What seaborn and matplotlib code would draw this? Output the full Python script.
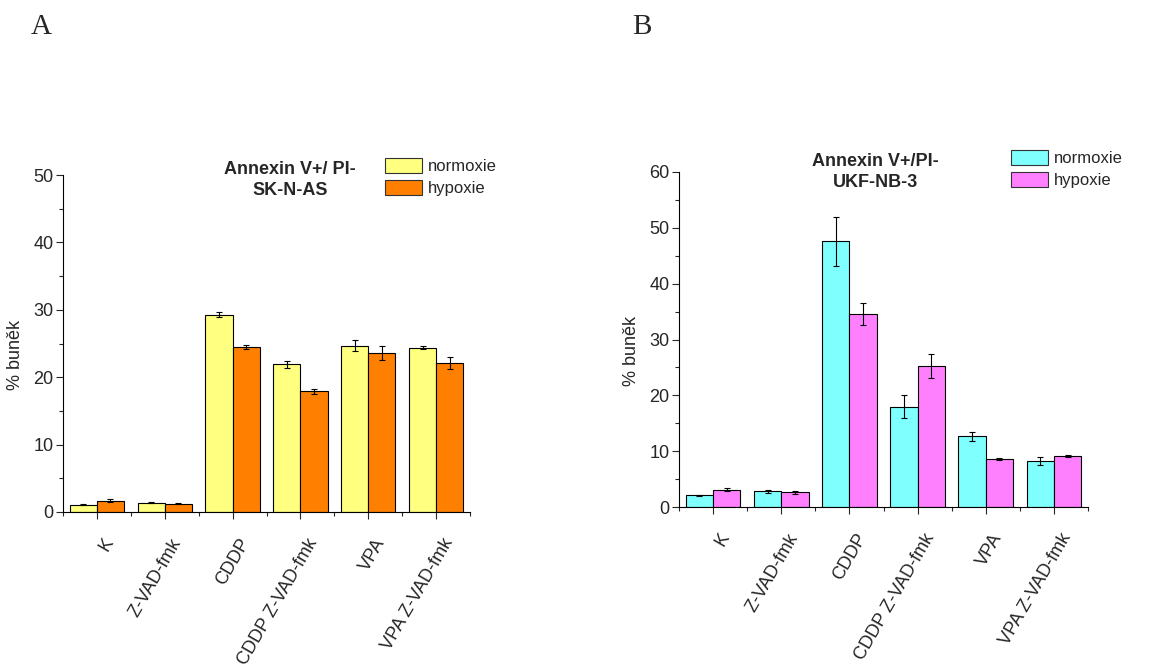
import numpy as np
import pandas as pd
import matplotlib
matplotlib.use("Agg")
import matplotlib.pyplot as plt
import matplotlib.transforms as mtransforms
from matplotlib.patches import Patch
import seaborn as sns

# ---- data ----
categories = ["K", "Z-VAD-fmk", "CDDP", "CDDP Z-VAD-fmk", "VPA", "VPA Z-VAD-fmk"]
conditions = ["normoxie", "hypoxie"]

sknas_norm = [1.1, 1.4, 29.3, 21.9, 24.7, 24.4]
sknas_norm_err = [0.1, 0.05, 0.3, 0.5, 0.75, 0.25]
sknas_hyp = [1.7, 1.25, 24.5, 17.9, 23.6, 22.1]
sknas_hyp_err = [0.25, 0.1, 0.25, 0.4, 1.1, 0.85]

ukf_norm = [2.1, 2.8, 47.6, 18.0, 12.7, 8.2]
ukf_norm_err = [0.1, 0.3, 4.4, 2.1, 0.8, 0.75]
ukf_hyp = [3.1, 2.6, 34.6, 25.3, 8.6, 9.2]
ukf_hyp_err = [0.3, 0.3, 1.95, 2.15, 0.1, 0.2]

sknas_colors = ["#FFFF80", "#FF8000"]
ukf_colors = ["#80FFFF", "#FF80FF"]

sns.set_style("ticks")
plt.rcParams["font.family"] = ["Liberation Sans", "DejaVu Sans"]
plt.rcParams["font.size"] = 13

W, H = 1176, 668
fig = plt.figure(figsize=(W / 100, H / 100), dpi=100)


def fx(px):
    return px / W


def fy(py):
    return 1 - py / H


def panel(rect, norm, nerr, hyp, herr, colors, ymax, title, title_xy, legend_xy, ylab_x):
    ax = fig.add_axes(rect)
    df = pd.DataFrame({
        "cat": categories * 2,
        "val": norm + hyp,
        "cond": [conditions[0]] * len(categories) + [conditions[1]] * len(categories),
    })
    sns.barplot(data=df, x="cat", y="val", hue="cond", order=categories,
                hue_order=conditions, palette=colors, edgecolor="black",
                linewidth=0.8, errorbar=None, saturation=1, width=0.8,
                legend=False, ax=ax)
    for cont, err in zip(ax.containers, [nerr, herr]):
        xs = [b.get_x() + b.get_width() / 2 for b in cont]
        ys = [b.get_height() for b in cont]
        ax.errorbar(xs, ys, yerr=err, fmt="none", ecolor="black",
                    elinewidth=0.8, capsize=2.5, capthick=0.8)
    ax.set_xlim(-0.5, len(categories) - 0.5)
    ax.set_ylim(0, ymax)
    ax.set_yticks(np.arange(0, ymax + 1, 10))
    ax.set_yticks(np.arange(5, ymax, 10), minor=True)
    ax.set_xticks(np.arange(-0.5, len(categories), 1.0), minor=True)
    sns.despine(ax=ax)
    for s in ["left", "bottom"]:
        ax.spines[s].set_linewidth(0.8)
        ax.spines[s].set_color("black")
    ax.tick_params(axis="y", which="major", length=5, width=0.8, labelsize=13, direction="out", pad=2)
    ax.tick_params(axis="y", which="minor", length=3, width=0.8, direction="out")
    ax.tick_params(axis="x", which="major", length=5, width=0.8, labelsize=13, direction="out", pad=15)
    ax.tick_params(axis="x", which="minor", length=3, width=0.8, direction="out")
    ax.set_xlabel("")
    ax.set_ylabel("% buněk", fontsize=13)
    ax.yaxis.set_label_coords(ylab_x, 0.466)
    offset = mtransforms.ScaledTranslation(13 / 100, 0, fig.dpi_scale_trans)
    for lab in ax.get_xticklabels():
        lab.set_rotation(60)
        lab.set_ha("right")
        lab.set_va("center")
        lab.set_rotation_mode("anchor")
        lab.set_transform(lab.get_transform() + offset)
    fig.text(fx(title_xy[0]), fy(title_xy[1]), title, ha="center", va="center",
             fontsize=13, fontweight="bold", linespacing=1.35)
    handles = [Patch(facecolor=c, edgecolor="#333333", linewidth=0.8) for c in colors]
    fig.legend(handles, conditions, loc="upper left",
               bbox_to_anchor=(fx(legend_xy[0]), fy(legend_xy[1])),
               bbox_transform=fig.transFigure, frameon=False, borderpad=0,
               borderaxespad=0, handlelength=2.2, handleheight=1.0,
               handletextpad=0.4, labelspacing=0.35, fontsize=12)
    return ax


panel([fx(63), fy(512), fx(470) - fx(63), fy(175) - fy(512)],
      sknas_norm, sknas_norm_err, sknas_hyp, sknas_hyp_err, sknas_colors, 50,
      "Annexin V+/ PI-\nSK-N-AS", (290, 180), (385, 158), -0.096)

panel([fx(679), fy(507), fx(1088) - fx(679), fy(172) - fy(507)],
      ukf_norm, ukf_norm_err, ukf_hyp, ukf_hyp_err, ukf_colors, 60,
      "Annexin V+/PI-\nUKF-NB-3", (875, 172), (1011, 150), -0.095)

fig.text(fx(31), fy(27), "A", family=["Liberation Serif", "DejaVu Serif"], fontsize=21, va="center", ha="left")
fig.text(fx(632), fy(27), "B", family=["Liberation Serif", "DejaVu Serif"], fontsize=21, va="center", ha="left")

fig.savefig("out.png", dpi=100)
